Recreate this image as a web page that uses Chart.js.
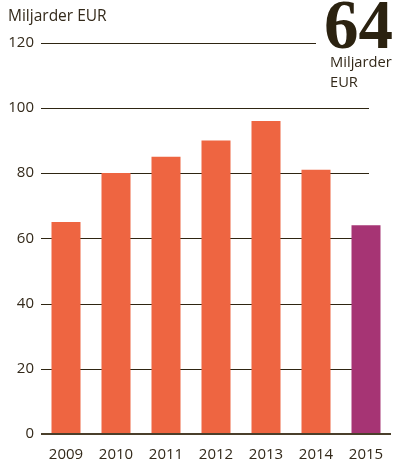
<!DOCTYPE html>
<html>
<head>
<meta charset="utf-8">
<script src="https://cdn.jsdelivr.net/npm/chart.js@4/dist/chart.umd.min.js"></script>
<style>
    body { margin: 0; background: #fff; }
    #wrap { position: relative; width: 396px; height: 465px; }
    #big {
        position: absolute; left: 324px; top: -15px;
        font-family: "Liberation Serif", serif; font-weight: bold;
        font-size: 69px; color: #2b2210; line-height: 80px;
    }
    #unit {
        position: absolute; left: 330px; top: 51px;
        font-family: "Open Sans", sans-serif; font-size: 14.7px;
        color: #33291a; line-height: 20px;
    }
</style>
</head>
<body>
<div id="wrap">
    <canvas id="chart" width="396" height="465"></canvas>
    <div id="big"></div>
    <div id="unit">Miljarder<br>EUR</div>
</div>
<script>
const years = ["2009", "2010", "2011", "2012", "2013", "2014", "2015"];
const values = [65, 80, 85, 90, 96, 81, 64];
const yTicks = [0, 20, 40, 60, 80, 100, 120];

const orange = "#ee6541";
const purple = "#a63474";
const ink = "#33291a";

document.getElementById("big").textContent = values[values.length - 1];

// horizontal rules behind the bars, the top one stops short of the big number
const rules = {
    id: "rules",
    beforeDatasetsDraw(chart) {
        const ctx = chart.ctx;
        const y = chart.scales.y;
        const left = chart.chartArea.left;
        ctx.save();
        ctx.strokeStyle = "#2e2512";
        ctx.lineWidth = 1;
        yTicks.forEach(v => {
            if (v === 0) return;
            const py = Math.round(y.getPixelForValue(v)) + 0.5;
            ctx.beginPath();
            ctx.moveTo(left, py);
            ctx.lineTo(v === 120 ? 316 : 369, py);
            ctx.stroke();
        });
        ctx.restore();
    },
    afterDatasetsDraw(chart) {
        const ctx = chart.ctx;
        const py = chart.scales.y.getPixelForValue(0);
        ctx.save();
        ctx.strokeStyle = "#4a3f2b";
        ctx.lineWidth = 2;
        ctx.beginPath();
        ctx.moveTo(chart.chartArea.left, py);
        ctx.lineTo(chart.chartArea.right, py);
        ctx.stroke();
        ctx.restore();
    }
};

new Chart(document.getElementById("chart"), {
    type: "bar",
    data: {
        labels: years,
        datasets: [{
            data: values,
            backgroundColor: values.map((v, i) => i === values.length - 1 ? purple : orange),
            barPercentage: 0.58,
            categoryPercentage: 1
        }]
    },
    options: {
        responsive: false,
        animation: false,
        layout: { padding: { left: 8, right: 5, top: 0, bottom: 0 } },
        plugins: {
            legend: { display: false },
            tooltip: { enabled: false },
            title: {
                display: true,
                text: "Miljarder EUR",
                align: "start",
                color: ink,
                font: { family: "Open Sans", size: 15.5, weight: "normal" },
                padding: { top: 7, bottom: 17 }
            }
        },
        scales: {
            x: {
                afterFit(scale) { scale.height = 31; },
                grid: { display: false },
                border: { display: false },
                ticks: {
                    color: ink,
                    font: { family: "Open Sans", size: 15 },
                    padding: 4
                }
            },
            y: {
                min: 0,
                max: 120,
                afterFit(scale) { scale.width = 33; },
                afterBuildTicks(scale) { scale.ticks = yTicks.map(v => ({ value: v })); },
                grid: { display: false, drawTicks: false },
                border: { display: false },
                ticks: {
                    color: ink,
                    font: { family: "Open Sans", size: 15 },
                    padding: 7
                }
            }
        }
    },
    plugins: [rules]
});
</script>
</body>
</html>
